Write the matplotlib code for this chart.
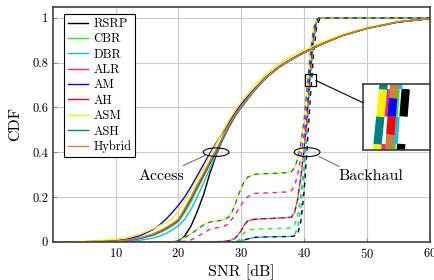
import matplotlib
matplotlib.use("Agg")
import matplotlib.pyplot as plt
from matplotlib.lines import Line2D
from matplotlib.patches import Ellipse, Rectangle, ConnectionPatch

plt.rcParams['font.family'] = ['cmr10']
plt.rcParams['mathtext.fontset'] = 'cm'
plt.rcParams['axes.formatter.use_mathtext'] = True

# Data
# -----------------------------------------------------------------------------------------
methods = ['RSRP', 'CBR', 'DBR', 'ALR', 'AM', 'AH', 'ASM', 'ASH', 'Hybrid']
colors = ['#000000', '#22ee22', '#11bbee', '#ee2299', '#0000ff', '#ff0000',
          '#ffee00', '#008080', '#c8823c']

access_snr = [0, 5, 8, 10, 12, 14, 16, 17, 18, 19, 20, 21, 22, 23, 24, 25, 26, 27, 28,
              29, 30, 32, 34, 36, 38, 40, 43, 46, 50, 55, 60]

acc_rsrp = [0, 0, 0, 0, 0, 0, 0, 0, 0, 0, 0.002, 0.025, 0.07, 0.135, 0.21, 0.305, 0.385, 0.455, 0.51,
            0.56, 0.6, 0.672, 0.733, 0.779, 0.814, 0.845, 0.885, 0.92, 0.953, 0.982, 0.997]
acc_cbr = [0, 0, 0, 0.002, 0.006, 0.014, 0.028, 0.04, 0.053, 0.07, 0.09, 0.13, 0.178, 0.235, 0.29, 0.345, 0.4, 0.458, 0.515,
           0.565, 0.605, 0.675, 0.735, 0.78, 0.815, 0.845, 0.885, 0.92, 0.953, 0.982, 0.997]
acc_dbr = [0, 0, 0, 0.001, 0.003, 0.007, 0.016, 0.025, 0.036, 0.052, 0.072, 0.1, 0.145, 0.2, 0.262, 0.325, 0.39, 0.45, 0.51,
           0.562, 0.603, 0.674, 0.734, 0.78, 0.815, 0.845, 0.885, 0.92, 0.953, 0.982, 0.997]
acc_alr = [0, 0, 0.001, 0.003, 0.007, 0.016, 0.032, 0.045, 0.06, 0.077, 0.097, 0.142, 0.192, 0.247, 0.297, 0.352, 0.402, 0.461, 0.516,
           0.565, 0.605, 0.675, 0.735, 0.78, 0.815, 0.845, 0.885, 0.92, 0.953, 0.982, 0.997]
acc_am = [0, 0, 0.001, 0.004, 0.012, 0.028, 0.055, 0.075, 0.1, 0.13, 0.163, 0.2, 0.245, 0.295, 0.345, 0.395, 0.44, 0.485, 0.53,
          0.578, 0.615, 0.68, 0.738, 0.782, 0.817, 0.847, 0.886, 0.921, 0.954, 0.982, 0.997]
acc_ah = [0, 0, 0.001, 0.003, 0.007, 0.016, 0.032, 0.044, 0.058, 0.075, 0.095, 0.14, 0.19, 0.245, 0.295, 0.35, 0.4, 0.46, 0.515,
          0.565, 0.605, 0.675, 0.735, 0.78, 0.815, 0.845, 0.885, 0.92, 0.953, 0.982, 0.997]
acc_asm = [0, 0.001, 0.006, 0.012, 0.02, 0.035, 0.058, 0.072, 0.085, 0.102, 0.14, 0.183, 0.228, 0.28, 0.33, 0.385, 0.435, 0.49, 0.54,
           0.585, 0.625, 0.695, 0.75, 0.795, 0.83, 0.857, 0.893, 0.925, 0.957, 0.984, 0.997]
acc_ash = [0, 0, 0.001, 0.003, 0.008, 0.017, 0.033, 0.046, 0.06, 0.078, 0.098, 0.143, 0.193, 0.248, 0.3, 0.353, 0.405, 0.462, 0.517,
           0.565, 0.605, 0.675, 0.735, 0.78, 0.815, 0.845, 0.885, 0.92, 0.953, 0.982, 0.997]
acc_hybrid = [0, 0, 0.001, 0.003, 0.008, 0.018, 0.035, 0.048, 0.063, 0.08, 0.1, 0.148, 0.2, 0.255, 0.305, 0.36, 0.41, 0.465, 0.52,
              0.565, 0.605, 0.675, 0.735, 0.78, 0.815, 0.845, 0.885, 0.92, 0.953, 0.982, 0.997]

backhaul_snr = [0, 19, 20, 21, 22, 23, 24, 25, 26, 27, 28, 28.5, 29, 29.5, 30, 30.5, 31, 32, 33,
                35, 37, 38, 38.5, 39, 39.5, 40, 40.5, 41, 41.5, 42, 42.5, 43, 60]

bh_rsrp = [0, 0, 0, 0, 0, 0, 0, 0, 0, 0, 0, 0, 0, 0, 0.003, 0.007, 0.012, 0.019, 0.021,
           0.022, 0.023, 0.024, 0.026, 0.035, 0.09, 0.22, 0.42, 0.64, 0.83, 0.96, 0.995, 1.0, 1.0]
bh_cbr = [0, 0, 0, 0, 0, 0, 0, 0, 0, 0, 0, 0, 0, 0.005, 0.02, 0.04, 0.052, 0.056, 0.057,
          0.058, 0.06, 0.062, 0.075, 0.12, 0.21, 0.35, 0.52, 0.74, 0.9, 0.98, 1.0, 1.0, 1.0]
bh_dbr = [0, 0, 0, 0, 0, 0, 0, 0, 0, 0, 0, 0, 0, 0, 0.004, 0.008, 0.012, 0.018, 0.02,
          0.022, 0.023, 0.024, 0.03, 0.065, 0.15, 0.3, 0.5, 0.72, 0.89, 0.975, 1.0, 1.0, 1.0]
bh_alr = [0, 0, 0, 0.002, 0.008, 0.022, 0.04, 0.055, 0.062, 0.066, 0.08, 0.1, 0.12, 0.142, 0.165, 0.185, 0.2, 0.215, 0.217,
          0.219, 0.222, 0.228, 0.25, 0.3, 0.38, 0.48, 0.62, 0.79, 0.93, 0.99, 1.0, 1.0, 1.0]
bh_am = [0, 0, 0, 0, 0, 0, 0, 0, 0, 0.001, 0.004, 0.008, 0.015, 0.03, 0.05, 0.075, 0.092, 0.1, 0.102,
         0.104, 0.107, 0.11, 0.13, 0.19, 0.29, 0.41, 0.56, 0.76, 0.91, 0.985, 1.0, 1.0, 1.0]
bh_ah = [0, 0, 0, 0, 0, 0, 0, 0, 0, 0.001, 0.004, 0.008, 0.015, 0.03, 0.05, 0.075, 0.092, 0.1, 0.102,
         0.104, 0.107, 0.11, 0.13, 0.19, 0.29, 0.41, 0.56, 0.76, 0.91, 0.985, 1.0, 1.0, 1.0]
bh_asm = [0, 0, 0.005, 0.018, 0.035, 0.055, 0.075, 0.088, 0.092, 0.096, 0.11, 0.13, 0.165, 0.205, 0.24, 0.27, 0.288, 0.3, 0.303,
          0.305, 0.308, 0.313, 0.33, 0.37, 0.44, 0.54, 0.69, 0.84, 0.95, 0.995, 1.0, 1.0, 1.0]
bh_ash = [0, 0, 0.005, 0.018, 0.035, 0.055, 0.075, 0.088, 0.092, 0.096, 0.11, 0.13, 0.165, 0.205, 0.24, 0.27, 0.288, 0.3, 0.303,
          0.305, 0.308, 0.313, 0.33, 0.37, 0.44, 0.54, 0.69, 0.84, 0.95, 0.995, 1.0, 1.0, 1.0]
bh_hybrid = [0, 0, 0, 0, 0, 0, 0, 0, 0, 0.001, 0.004, 0.008, 0.015, 0.03, 0.05, 0.075, 0.092, 0.1, 0.102,
             0.104, 0.107, 0.11, 0.13, 0.19, 0.29, 0.41, 0.56, 0.76, 0.91, 0.985, 1.0, 1.0, 1.0]

access = [acc_rsrp, acc_cbr, acc_dbr, acc_alr, acc_am, acc_ah, acc_asm, acc_ash, acc_hybrid]
backhaul = [bh_rsrp, bh_cbr, bh_dbr, bh_alr, bh_am, bh_ah, bh_asm, bh_ash, bh_hybrid]

# dash patterns with offsets so that overlapping curves alternate colours
dashes = [(0, (3.3, 3.3)), (0, (3.3, 3.3)), (3.3, (3.3, 3.3)), (0, (3.3, 3.3)),
          (0, (2.2, 4.4)), (2.2, (2.2, 4.4)), (0, (3.3, 3.3)), (3.3, (3.3, 3.3)),
          (4.4, (2.2, 4.4))]


def draw_curves(a, lw):
    for col, acc, bh, ds in zip(colors, access, backhaul, dashes):
        a.plot(access_snr, acc, color=col, lw=lw, solid_capstyle='butt')
        a.plot(backhaul_snr, bh, color=col, lw=lw, linestyle=ds, dash_capstyle='butt')


# Plot
# -----------------------------------------------------------------------------------------
fig = plt.figure(figsize=(4.35, 2.8), dpi=100)
ax = fig.add_axes([0.1216, 0.1368, 0.8658, 0.8392])

draw_curves(ax, 1.0)

ax.set_xlim(0, 60)
ax.set_ylim(0, 1.05)
ax.set_xticks([10, 20, 30, 40, 50, 60])
ax.set_yticks([0, 0.2, 0.4, 0.6, 0.8, 1])
ax.set_yticklabels(['0', '0.2', '0.4', '0.6', '0.8', '1'])
ax.grid(True, color='#cccccc', lw=0.8)
ax.set_axisbelow(True)
ax.tick_params(direction='in', length=3, color='#888888', labelsize=9, pad=3.5)
for sp in ax.spines.values():
    sp.set_color('#404040')
    sp.set_linewidth(1.2)
ax.set_xlabel('SNR [dB]', fontsize=11.5, labelpad=3)
ax.set_ylabel('CDF', fontsize=11.5, labelpad=7)

# ellipses and labels
ax.add_patch(Ellipse((26.0, 0.40), 4.1, 0.038, fill=False, ec='black', lw=0.8, zorder=5))
ax.add_patch(Ellipse((40.5, 0.40), 4.1, 0.040, fill=False, ec='black', lw=0.8, zorder=5))
ax.plot([20.75, 24.5], [0.34, 0.389], color='#666666', lw=0.7, zorder=5)
ax.plot([42.4, 45.6], [0.381, 0.336], color='#666666', lw=0.7, zorder=5)
ax.text(17.3, 0.293, 'Access', fontsize=11.5, ha='center', va='center')
ax.text(50.6, 0.292, 'Backhaul', fontsize=11.5, ha='center', va='center')

# legend
handles = [Line2D([], [], color=c, lw=1.0) for c in colors]
leg = ax.legend(handles, methods, loc='upper left', bbox_to_anchor=(0.0303, 0.969),
                borderaxespad=0, fancybox=False, framealpha=1, edgecolor='black',
                fontsize=9, handlelength=1.6, handletextpad=0.45, labelspacing=0.26,
                borderpad=0.3)
leg.get_frame().set_linewidth(0.8)

# zoomed inset
zx = (40.15, 41.9)
zy = (0.695, 0.748)
ax.add_patch(Rectangle((zx[0], zy[0]), zx[1] - zx[0], zy[1] - zy[0], fill=False,
                       ec='black', lw=0.9, zorder=6))
axins = fig.add_axes([0.8345, 0.4643, 0.1529, 0.2357])
draw_curves(axins, 6.0)
axins.set_xlim(*zx)
axins.set_ylim(*zy)
axins.set_xticks([])
axins.set_yticks([])
for sp in axins.spines.values():
    sp.set_color('#404040')
    sp.set_linewidth(1.2)
con = ConnectionPatch(xyA=(zx[1], 0.72), coordsA=ax.transData,
                      xyB=(0, 0.717), coordsB=axins.transAxes,
                      color='black', lw=0.8)
fig.add_artist(con)

fig.savefig('out.png', dpi=100)
